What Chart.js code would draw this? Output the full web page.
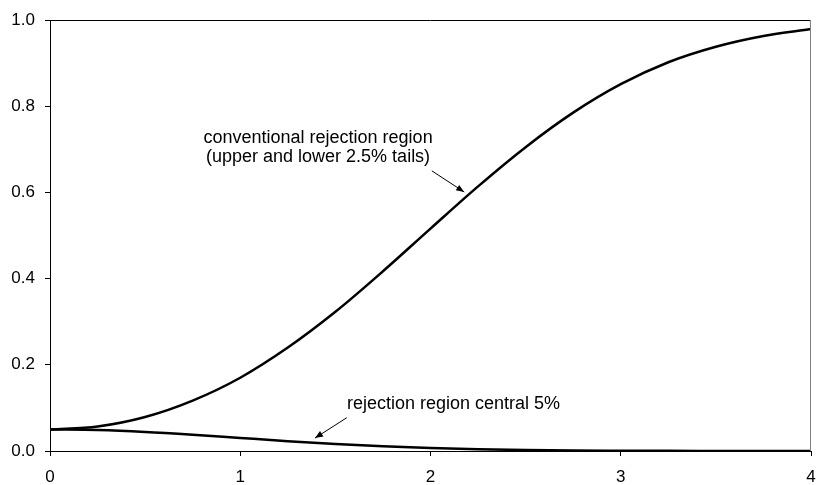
<!DOCTYPE html>
<html><head><meta charset="utf-8">
<script src="https://cdn.jsdelivr.net/npm/chart.js@4/dist/chart.umd.min.js"></script>
<style>html,body{margin:0;padding:0;background:#fff}canvas{display:block}</style>
</head><body>
<canvas id="c" width="816" height="485"></canvas>
<script>
// Effect size (x axis)
const delta = [0, 0.25, 0.5, 0.75, 1, 1.25, 1.5, 1.75, 2, 2.25, 2.5, 2.75, 3, 3.25, 3.5, 3.75, 4];
// Probability of rejection: conventional (upper and lower 2.5% tails)
const conventionalPower = [0.050, 0.057, 0.079, 0.117, 0.170, 0.240, 0.323, 0.417, 0.516, 0.614, 0.705, 0.785, 0.851, 0.902, 0.938, 0.963, 0.979];
// Probability of rejection: central 5% region
const centralPower = [0.050, 0.0485, 0.0442, 0.0378, 0.0303, 0.0229, 0.0162, 0.0108, 0.0068, 0.0040, 0.0022, 0.0011, 0.0006, 0.0003, 0.0001, 0.00004, 0.00002];
const xTicks = [0, 1, 2, 3, 4];
const yTicks = [0, 0.2, 0.4, 0.6, 0.8, 1.0];

const label1 = ["conventional rejection region", "(upper and lower 2.5% tails)"];
const label2 = "rejection region central 5%";

const FONT = '"Liberation Sans", Arial, sans-serif';

function pts(xs, ys){ return xs.map((v,i)=>({x:v, y:ys[i]})); }

function arrow(ctx, x0, y0, x1, y1){
  ctx.beginPath(); ctx.moveTo(x0,y0); ctx.lineTo(x1,y1); ctx.stroke();
  const ang = Math.atan2(y1-y0, x1-x0), L = 8, W = 3.2;
  ctx.beginPath();
  ctx.moveTo(x1,y1);
  ctx.lineTo(x1 - L*Math.cos(ang) + W*Math.sin(ang), y1 - L*Math.sin(ang) - W*Math.cos(ang));
  ctx.lineTo(x1 - L*Math.cos(ang) - W*Math.sin(ang), y1 - L*Math.sin(ang) + W*Math.cos(ang));
  ctx.closePath(); ctx.fill();
}

const annot = {
  id: 'annot',
  afterDatasetsDraw(chart){
    const {ctx, scales:{x, y}, chartArea:a} = chart;
    ctx.save();
    ctx.lineWidth = 1;
    ctx.strokeStyle = '#000';
    ctx.beginPath(); ctx.moveTo(a.left, a.top+0.5); ctx.lineTo(a.right, a.top+0.5); ctx.stroke();
    ctx.strokeStyle = '#808080';
    ctx.beginPath(); ctx.moveTo(a.right-0.5, a.top); ctx.lineTo(a.right-0.5, a.bottom); ctx.stroke();

    ctx.fillStyle = '#000';
    ctx.font = '18px ' + FONT;
    ctx.textBaseline = 'alphabetic';
    ctx.textAlign = 'center';
    ctx.fillText(label1[0], x.getPixelForValue(1.409), y.getPixelForValue(0.714));
    ctx.fillText(label1[1], x.getPixelForValue(1.409), y.getPixelForValue(0.670));
    ctx.textAlign = 'left';
    ctx.fillText(label2, x.getPixelForValue(1.561), y.getPixelForValue(0.0985));

    ctx.strokeStyle = '#000';
    ctx.lineWidth = 1;
    arrow(ctx, x.getPixelForValue(2.007), y.getPixelForValue(0.650), x.getPixelForValue(2.177), y.getPixelForValue(0.601));
    arrow(ctx, x.getPixelForValue(1.560), y.getPixelForValue(0.0773), x.getPixelForValue(1.393), y.getPixelForValue(0.030));
    ctx.restore();
  }
};

new Chart(document.getElementById('c'), {
  type: 'scatter',
  data: {
    datasets: [
      {data: pts(delta, conventionalPower), showLine: true, borderColor: '#000', borderWidth: 2.5, pointRadius: 0, cubicInterpolationMode: 'monotone', fill: false},
      {data: pts(delta, centralPower), showLine: true, borderColor: '#000', borderWidth: 2.5, pointRadius: 0, cubicInterpolationMode: 'monotone', fill: false}
    ]
  },
  options: {
    responsive: false,
    animation: false,
    events: [],
    layout: {padding: {left: 0, top: 20, right: 5, bottom: 0}},
    plugins: {legend: {display: false}, tooltip: {enabled: false}},
    scales: {
      x: {
        type: 'linear', min: 0, max: 4,
        afterFit(s){ s.height = 34; s.paddingLeft = 0; s.paddingRight = 0; },
        afterBuildTicks(s){ s.ticks = xTicks.map(v=>({value:v})); },
        grid: {drawOnChartArea: false, drawTicks: true, tickLength: 5, color: '#000', tickColor: '#000'},
        border: {display: true, color: '#000', width: 1},
        ticks: {color: '#000', font: {family: FONT, size: 17}, padding: 11, maxRotation: 0, callback: v => String(v)}
      },
      y: {
        type: 'linear', min: 0, max: 1,
        afterFit(s){ s.width = 50; s.paddingTop = 0; s.paddingBottom = 0; },
        afterBuildTicks(s){ s.ticks = yTicks.map(v=>({value:v})); },
        grid: {drawOnChartArea: false, drawTicks: true, tickLength: 5, color: '#000', tickColor: '#000'},
        border: {display: true, color: '#000', width: 1},
        ticks: {color: '#000', font: {family: FONT, size: 17}, padding: 10, callback: v => Number(v).toFixed(1)}
      }
    }
  },
  plugins: [annot]
});
</script>
</body></html>
